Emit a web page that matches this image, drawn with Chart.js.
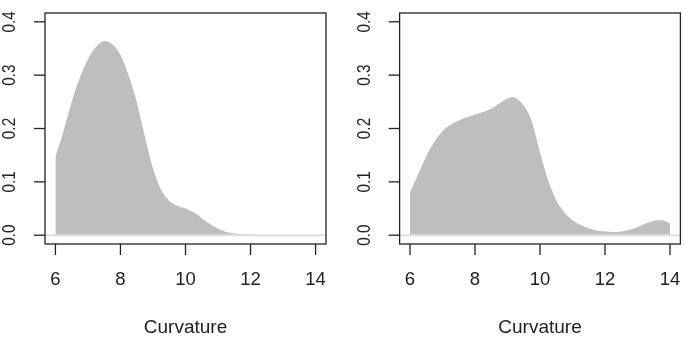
<!DOCTYPE html>
<html>
<head>
<meta charset="utf-8">
<script src="https://cdn.jsdelivr.net/npm/chart.js@4.4.1/dist/chart.umd.min.js"></script>
<style>
  html, body { margin: 0; padding: 0; background: #fff; }
  #wrap { position: relative; width: 685px; height: 338px; }
  canvas { position: absolute; top: 0; }
</style>
</head>
<body>
<div id="wrap">
  <canvas id="leftChart" width="342" height="338" style="left:0"></canvas>
  <canvas id="rightChart" width="343" height="338" style="left:342px"></canvas>
</div>
<script>
// density estimates
const leftX = [6, 6.25, 6.5, 6.75, 7, 7.25, 7.5, 7.75, 8, 8.25, 8.5, 8.75, 9, 9.25, 9.5, 9.75,
    10, 10.25, 10.5, 10.75, 11, 11.25, 11.5, 12, 12.5, 13, 14];
const leftDensity = [0.147, 0.195, 0.25, 0.295, 0.33, 0.353, 0.364, 0.358, 0.338, 0.30, 0.25, 0.185,
    0.125, 0.085, 0.064, 0.055, 0.05, 0.043, 0.032, 0.021, 0.012, 0.006, 0.003, 0.001, 0.0005, 0.0002, 0];

const rightX = [6, 6.25, 6.5, 6.75, 7, 7.25, 7.5, 7.75, 8, 8.25, 8.5, 8.75, 9, 9.15, 9.25, 9.5, 9.75,
    10, 10.25, 10.5, 10.75, 11, 11.25, 11.5, 11.75, 12, 12.25, 12.5, 12.75, 13, 13.25, 13.5, 13.75, 14];
const rightDensity = [0.081, 0.114, 0.148, 0.175, 0.195, 0.207, 0.215, 0.221, 0.226, 0.231, 0.237, 0.247,
    0.256, 0.259, 0.257, 0.243, 0.213, 0.155, 0.103, 0.066, 0.043, 0.028, 0.019, 0.013, 0.009, 0.007,
    0.006, 0.007, 0.01, 0.015, 0.022, 0.027, 0.028, 0.022];

const xTicks = [6, 8, 10, 12, 14];
const xTickLabels = ["6", "8", "10", "12", "14"];
const yTicks = [0, 0.1, 0.2, 0.3, 0.4];
const yTickLabels = ["0.0", "0.1", "0.2", "0.3", "0.4"];
const xTitle = "Curvature";

const FONT = "'Liberation Sans', Arial, sans-serif";

// R style box + axes drawn with the chart's own scales
const rAxes = {
    id: "rAxes",
    afterDraw(chart) {
        const { ctx, chartArea: a, scales } = chart;
        const xs = scales.x, ys = scales.y;
        ctx.save();

        // pale line at zero
        const y0 = ys.getPixelForValue(0);
        ctx.strokeStyle = "#dedede";
        ctx.lineWidth = 2;
        ctx.beginPath();
        ctx.moveTo(a.left, y0);
        ctx.lineTo(a.right, y0);
        ctx.stroke();

        ctx.strokeStyle = "#222";
        ctx.lineWidth = 1.3;
        ctx.strokeRect(a.left, a.top, a.right - a.left, a.bottom - a.top);

        ctx.fillStyle = "#222";
        ctx.font = "18.5px " + FONT;
        ctx.textAlign = "center";
        ctx.textBaseline = "middle";
        xTicks.forEach((v, i) => {
            const px = xs.getPixelForValue(v);
            ctx.beginPath();
            ctx.moveTo(px, a.bottom);
            ctx.lineTo(px, a.bottom + 11);
            ctx.stroke();
            ctx.fillText(xTickLabels[i], px, a.bottom + 36);
        });
        ctx.font = "19px " + FONT;
        ctx.fillText(xTitle, (a.left + a.right) / 2, a.bottom + 84);

        // rotated labels look squeezed along the text in the original
        ctx.font = "18px " + FONT;
        yTicks.forEach((v, i) => {
            const py = ys.getPixelForValue(v);
            ctx.beginPath();
            ctx.moveTo(a.left, py);
            ctx.lineTo(a.left - 11, py);
            ctx.stroke();
            ctx.save();
            ctx.translate(a.left - 35, py);
            ctx.rotate(-Math.PI / 2);
            ctx.scale(0.85, 1);
            ctx.fillText(yTickLabels[i], 0, 0);
            ctx.restore();
        });
        ctx.restore();
    }
};

function densityChart(id, xVals, yVals, pad) {
    const ctx = document.getElementById(id).getContext("2d");
    return new Chart(ctx, {
        type: "line",
        data: {
            datasets: [{
                data: xVals.map((x, i) => ({ x: x, y: yVals[i] })),
                backgroundColor: "#bebebe",
                borderColor: "rgba(0,0,0,0)",
                borderWidth: 0,
                pointRadius: 0,
                fill: "origin",
                cubicInterpolationMode: "monotone",
            }],
        },
        options: {
            responsive: false,
            animation: false,
            layout: { padding: pad },
            plugins: { legend: { display: false }, tooltip: { enabled: false } },
            scales: {
                x: { type: "linear", min: 5.68, max: 14.32, display: false },
                y: { min: -0.0165, max: 0.4165, display: false },
            },
        },
        plugins: [rAxes],
    });
}

densityChart("leftChart", leftX, leftDensity, { left: 45, right: 16, top: 13, bottom: 94 });
densityChart("rightChart", rightX, rightDensity, { left: 57.6, right: 4.6, top: 13, bottom: 94 });
</script>
</body>
</html>
